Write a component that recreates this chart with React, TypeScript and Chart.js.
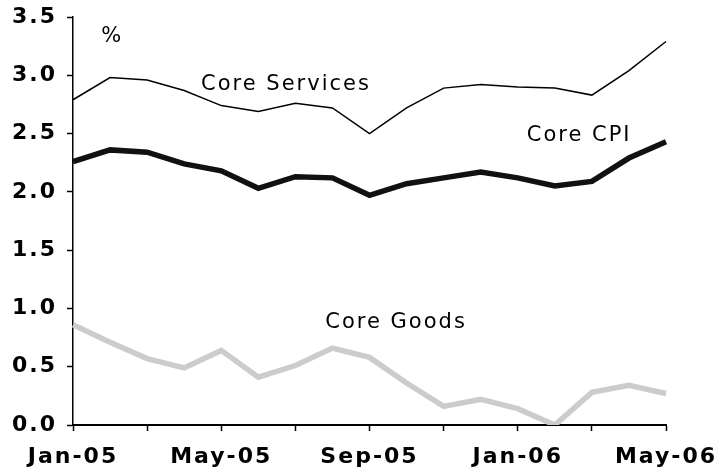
import React, { useEffect, useRef } from 'react';
import { Chart, registerables } from 'chart.js';

Chart.register(...registerables);

const months = [
  'Jan-05', 'Feb-05', 'Mar-05', 'Apr-05', 'May-05', 'Jun-05', 'Jul-05', 'Aug-05', 'Sep-05',
  'Oct-05', 'Nov-05', 'Dec-05', 'Jan-06', 'Feb-06', 'Mar-06', 'Apr-06', 'May-06',
];
const coreServices = [2.79, 2.98, 2.96, 2.87, 2.74, 2.69, 2.76, 2.72, 2.5, 2.72, 2.89, 2.92, 2.9, 2.89, 2.83, 3.04, 3.29];
const coreCPI = [2.26, 2.36, 2.34, 2.24, 2.18, 2.03, 2.13, 2.12, 1.97, 2.07, 2.12, 2.17, 2.12, 2.05, 2.09, 2.29, 2.43];
const coreGoods = [0.86, 0.71, 0.57, 0.49, 0.64, 0.41, 0.51, 0.66, 0.58, 0.36, 0.16, 0.22, 0.14, 0.0, 0.28, 0.34, 0.27];

const yMin = 0;
const yMax = 3.5;
const yStep = 0.5;

// annotation labels anchored in data space (x = month index, y = value)
const noteTexts = ['%', 'Core Services', 'Core CPI', 'Core Goods'];
const noteX = [1.03, 5.72, 13.63, 8.69];
const noteY = [3.33, 2.92, 2.48, 0.88];

const FONT = '"DejaVu Sans", Verdana, sans-serif';

const spacingPlugin = {
  id: 'spacing',
  beforeUpdate(chart: any) {
    chart.ctx.letterSpacing = '2px';
  },
  beforeDraw(chart: any) {
    chart.ctx.letterSpacing = '2px';
  },
  afterDatasetsDraw(chart: any) {
    const ctx = chart.ctx;
    const xs = chart.scales.x;
    const ys = chart.scales.y;
    ctx.save();
    ctx.letterSpacing = '2px';
    ctx.font = `21px ${FONT}`;
    ctx.fillStyle = '#000';
    ctx.textAlign = 'center';
    ctx.textBaseline = 'middle';
    noteTexts.forEach((t, i) => {
      ctx.fillText(t, xs.getPixelForValue(noteX[i]) + 1, ys.getPixelForValue(noteY[i]));
    });
    ctx.restore();
  },
};

export default function App() {
  const ref = useRef<HTMLCanvasElement>(null);
  useEffect(() => {
    if (!ref.current) return;
    const chart = new Chart(ref.current, {
      type: 'line',
      data: {
        labels: months,
        datasets: [
          {
            label: 'Core Services',
            data: coreServices,
            borderColor: '#000',
            borderWidth: 1.5,
            pointRadius: 0,
            tension: 0,
          },
          {
            label: 'Core CPI',
            data: coreCPI,
            borderColor: '#111',
            borderWidth: 5.5,
            pointRadius: 0,
            tension: 0,
          },
          {
            label: 'Core Goods',
            data: coreGoods,
            borderColor: '#cccccc',
            borderWidth: 5.5,
            pointRadius: 0,
            tension: 0,
          },
        ],
      },
      options: {
        animation: false,
        responsive: true,
        maintainAspectRatio: false,
        layout: { padding: { top: 17, right: 54, bottom: 0, left: 0 } },
        plugins: {
          legend: { display: false },
          tooltip: { enabled: false },
        },
        scales: {
          x: {
            type: 'category',
            offset: false,
            afterFit(scale: any) {
              scale.height = 50;
              scale.paddingLeft = 0;
              scale.paddingRight = 0;
            },
            border: { display: true, color: '#000', width: 2 },
            grid: {
              display: true,
              drawOnChartArea: false,
              drawTicks: true,
              tickLength: 6,
              tickWidth: 1.5,
              tickColor: (c: any) => (c.index % 2 === 0 ? '#000' : 'rgba(0,0,0,0)'),
            },
            ticks: {
              autoSkip: false,
              maxRotation: 0,
              minRotation: 0,
              padding: 13,
              color: '#000',
              font: { family: FONT, size: 22, weight: 'bold' },
              callback: (_v: any, i: number) => (i % 4 === 0 ? months[i] : ''),
            },
          },
          y: {
            min: yMin,
            max: yMax,
            afterFit(scale: any) {
              scale.width = 73;
              scale.paddingTop = 0;
              scale.paddingBottom = 0;
            },
            border: { display: true, color: '#000', width: 1.5 },
            grid: {
              display: true,
              drawOnChartArea: false,
              drawTicks: true,
              tickLength: 6,
              tickWidth: 1.5,
              tickColor: '#000',
            },
            ticks: {
              stepSize: yStep,
              padding: 10,
              color: '#000',
              font: { family: FONT, size: 22, weight: 'bold' },
              callback: (v: any) => Number(v).toFixed(1),
            },
          },
        },
      },
      plugins: [spacingPlugin],
    });
    return () => chart.destroy();
  }, []);
  return (
    <div style={{ position: 'fixed', left: 0, top: 0, width: 720, height: 475, background: '#fff' }}>
      <canvas ref={ref} />
    </div>
  );
}
